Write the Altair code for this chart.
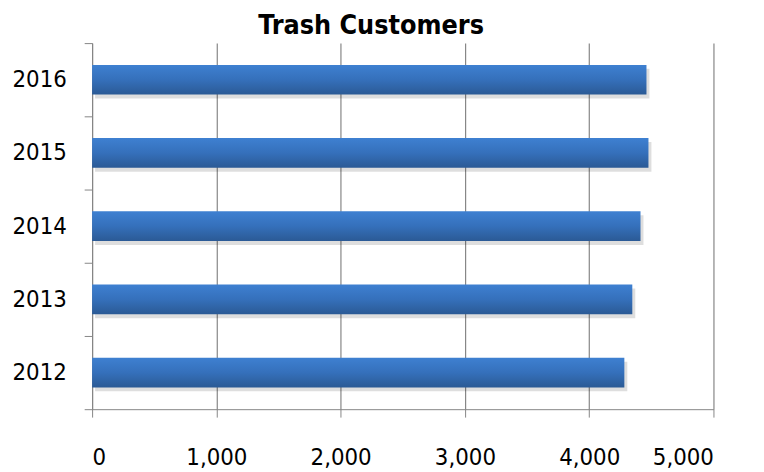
import altair as alt
import pandas as pd

years = ["2012", "2013", "2014", "2015", "2016"]
customers = [4283, 4347, 4413, 4477, 4461]

df = pd.DataFrame({"year": years, "customers": customers})

FONT = "DejaVu Sans Condensed, Open Sans, sans-serif"
GRID = "#868686"

y_enc = alt.Y(
    "year:N",
    sort=list(reversed(years)),
    title=None,
    scale=alt.Scale(paddingInner=0, paddingOuter=0),
    axis=alt.Axis(
        tickBand="extent",
        tickSize=8,
        tickColor=GRID,
        domainColor=GRID,
        labelFontSize=24,
        labelFont=FONT,
        labelColor="#000000",
        labelPadding=18,
        grid=False,
    ),
)
x_enc = alt.X(
    "customers:Q",
    title=None,
    scale=alt.Scale(domain=[0, 5000], nice=False),
    axis=alt.Axis(
        values=[0, 1000, 2000, 3000, 4000, 5000],
        format=",.0f",
        grid=True,
        gridColor=GRID,
        gridWidth=1.2,
        domainColor=GRID,
        tickColor=GRID,
        tickSize=8,
        labelFontSize=24,
        labelFont=FONT,
        labelColor="#000000",
        labelPadding=29,
    ),
)

shadow = alt.Chart(df).mark_bar(
    color="#000000", opacity=0.13, xOffset=3, yOffset=4, x2Offset=3,
    height={"band": 0.405},
).encode(x=x_enc, y=y_enc)

grad = alt.Gradient(
    gradient="linear",
    stops=[
        alt.GradientStop(color="#3e80d1", offset=0),
        alt.GradientStop(color="#3570bb", offset=0.5),
        alt.GradientStop(color="#2b5a95", offset=1),
    ],
    x1=0, x2=0, y1=0, y2=1,
)
bars = alt.Chart(df).mark_bar(color=grad, height={"band": 0.405}).encode(x=x_enc, y=y_enc)

chart = (
    alt.layer(shadow, bars)
    .properties(
        width=628,
        height=370,
        autosize=alt.AutoSizeParams(type="none"),
        padding={"left": 85, "top": 33, "right": 43, "bottom": 61},
        title=alt.TitleParams(
            "Trash Customers",
            font=FONT,
            fontSize=27,
            fontWeight="bold",
            color="#000000",
            anchor="middle",
            baseline="bottom",
            dx=-32,
            dy=22,
            offset=-14,
        ),
    )
    .configure_view(strokeWidth=0)
)

chart.save("out.html", embed_options={"renderer": "svg", "actions": False})
